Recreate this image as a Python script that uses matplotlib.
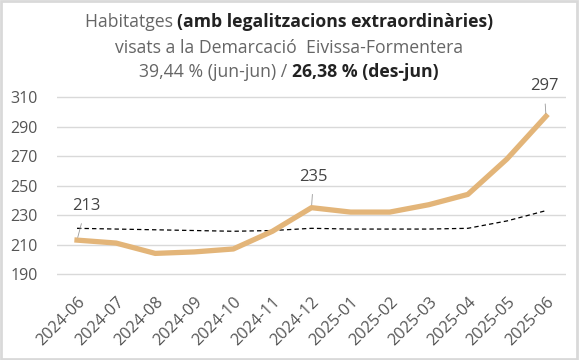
import matplotlib
matplotlib.use("Agg")
import matplotlib.pyplot as plt
from matplotlib.patches import Rectangle

months = ["2024-06", "2024-07", "2024-08", "2024-09", "2024-10", "2024-11", "2024-12",
          "2025-01", "2025-02", "2025-03", "2025-04", "2025-05", "2025-06"]
habitatges = [213, 211, 204, 205, 207, 219, 235, 232, 232, 237, 244, 268, 297]
referencia = [221, 220.5, 220, 219.5, 219, 219.5, 221, 220.5, 220.5, 220.5, 221, 226, 233]
labelled = {0: (9, 34), 6: (2, 31), 12: (-2, 30)}  # index -> text offset (px)

plt.rcParams['font.family'] = ['Open Sans', 'DejaVu Sans']

fig = plt.figure(figsize=(5.8, 3.6), dpi=100)
ax = fig.add_axes([0.0991, 0.2183, 0.876, 0.5326])

x = list(range(len(months)))
ax.plot(x, referencia, color='black', lw=0.9, ls=(0, (3.5, 2.5)), zorder=2)
ax.plot(x, habitatges, color='#e3b579', lw=3.8, solid_joinstyle='round', zorder=3)

for i, off in labelled.items():
    ax.annotate(str(habitatges[i]), xy=(i, habitatges[i]), xytext=off,
                textcoords='offset pixels', ha='center', va='center',
                fontsize=12, color='#444444',
                arrowprops=dict(arrowstyle='-', color='#999999', lw=0.6,
                                shrinkA=5, shrinkB=2))

ax.set_xlim(-0.5, 12.5)
ax.set_ylim(185, 315)
ax.set_yticks(range(190, 311, 20))
ax.set_xticks(x)
ax.set_xticklabels(months, rotation=45, ha='right', rotation_mode='anchor')
ax.grid(axis='y', color='#d9d9d9', lw=1)
ax.set_axisbelow(True)
for s in ax.spines.values():
    s.set_visible(False)
ax.tick_params(length=0, labelcolor='#555555')
ax.tick_params(axis='y', pad=14, labelsize=11.5)
ax.tick_params(axis='x', pad=9, labelsize=11.8)

# title built from pieces so part of each line can be bold
lines = [
    (333, [("Habitatges ", 'normal', '#666666'),
           ("(amb legalitzacions extraordinàries)", 'bold', '#222222')]),
    (307, [("visats a la Demarcació  Eivissa-Formentera", 'normal', '#666666')]),
    (283, [("39,44 % (jun-jun) / ", 'normal', '#666666'),
           ("26,38 % (des-jun)", 'bold', '#222222')]),
]
renderer = fig.canvas.get_renderer()
for ypx, parts in lines:
    texts = []
    for s, w, c in parts:
        t = fig.text(0, ypx / 360, s, fontsize=12.7, fontweight=w, color=c,
                     va='baseline', ha='left')
        texts.append(t)
    widths = [t.get_window_extent(renderer).width for t in texts]
    xpos = 289 - sum(widths) / 2
    for t, wd in zip(texts, widths):
        t.set_x(xpos / 580)
        xpos += wd

fig.patches.append(Rectangle((0.002, 0.003), 0.993, 0.994, transform=fig.transFigure,
                             fill=False, edgecolor='#d9d9d9', lw=2))

fig.savefig('out.png', dpi=100, facecolor='white')
